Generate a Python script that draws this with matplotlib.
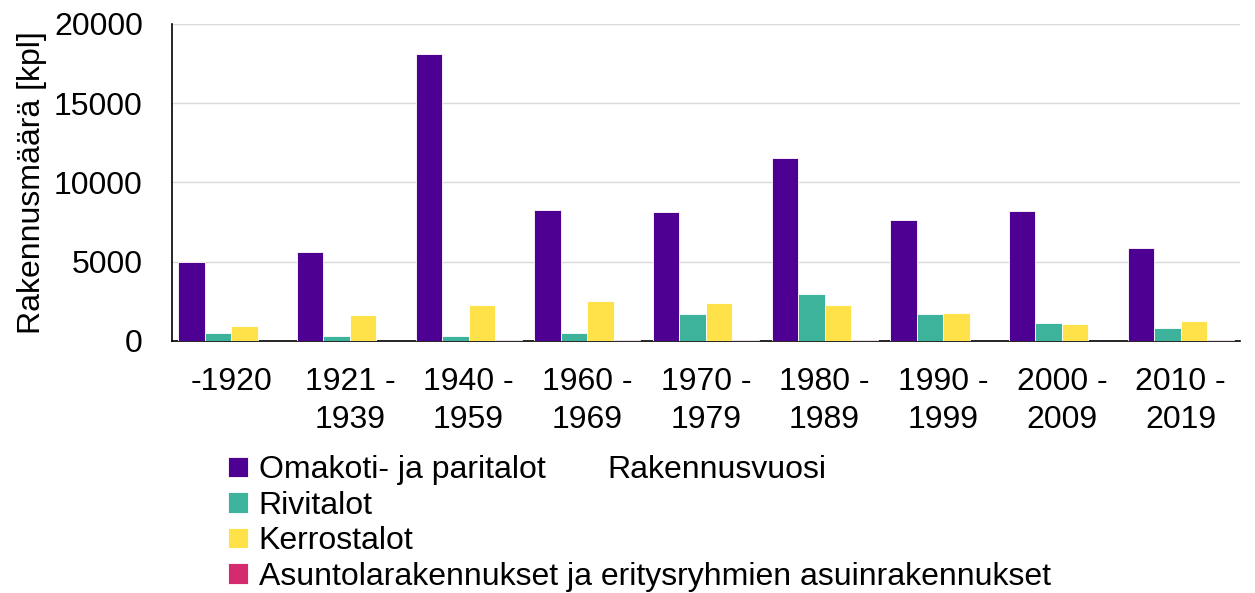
import matplotlib.pyplot as plt
import numpy as np

plt.rcParams['font.family'] = ['Liberation Sans', 'DejaVu Sans']

# Rakennusvuosi categories
periods = ["-1920", "1921 -\n1939", "1940 -\n1959", "1960 -\n1969", "1970 -\n1979",
           "1980 -\n1989", "1990 -\n1999", "2000 -\n2009", "2010 -\n2019"]

omakoti = [5000, 5600, 18100, 8270, 8140, 11550, 7640, 8200, 5870]
rivitalot = [500, 310, 300, 500, 1700, 2960, 1700, 1130, 820]
kerrostalot = [950, 1650, 2270, 2520, 2400, 2270, 1770, 1070, 1260]
asuntola = [10, 10, 30, 30, 60, 50, 10, 10, 30]

series_names = ["Omakoti- ja paritalot", "Rivitalot", "Kerrostalot",
                "Asuntolarakennukset ja eritysryhmien asuinrakennukset"]
colors = ["#4E0092", "#3CB39A", "#FFE14A", "#D42A6E"]

fig = plt.figure(figsize=(12.55, 5.93), dpi=100)
ax = fig.add_axes([0.137, 0.425, 0.851, 0.535])

x = np.arange(len(periods))
width = 0.223
data = [omakoti, rivitalot, kerrostalot, asuntola]
for i, vals in enumerate(data):
    ax.bar(x + (i - 1.5) * width, vals, width, color=colors[i],
           edgecolor="white", linewidth=0.6, label=series_names[i], zorder=3)

ax.set_xlim(-0.5, len(periods) - 0.5)
ax.set_ylim(0, 20000)
ax.set_yticks([0, 5000, 10000, 15000, 20000])
ax.set_xticks(x)
ax.set_xticklabels(periods, fontsize=23, linespacing=1.32)
ax.tick_params(axis='y', labelsize=23, length=0, pad=21)
ax.tick_params(axis='x', length=0, pad=19)
ax.grid(axis='y', color='#d9d9d9', linewidth=1, zorder=0)

for side in ['top', 'right']:
    ax.spines[side].set_visible(False)
ax.spines['left'].set_color('black')
ax.spines['bottom'].set_color('black')
ax.spines['left'].set_linewidth(1.2)
ax.spines['bottom'].set_linewidth(1.2)

ax.set_ylabel("Rakennusmäärä [kpl]", fontsize=23, labelpad=5)
ax.set_xlabel("Rakennusvuosi", fontsize=23, labelpad=4)
ax.xaxis.set_label_coords(0.51, -0.36)

fig.legend(loc='upper left', bbox_to_anchor=(0.182, 0.232), frameon=False,
           fontsize=23, handlelength=0.6, handleheight=0.6,
           handletextpad=0.35, labelspacing=0.17, borderaxespad=0, borderpad=0)

fig.savefig("out.png", dpi=100)
